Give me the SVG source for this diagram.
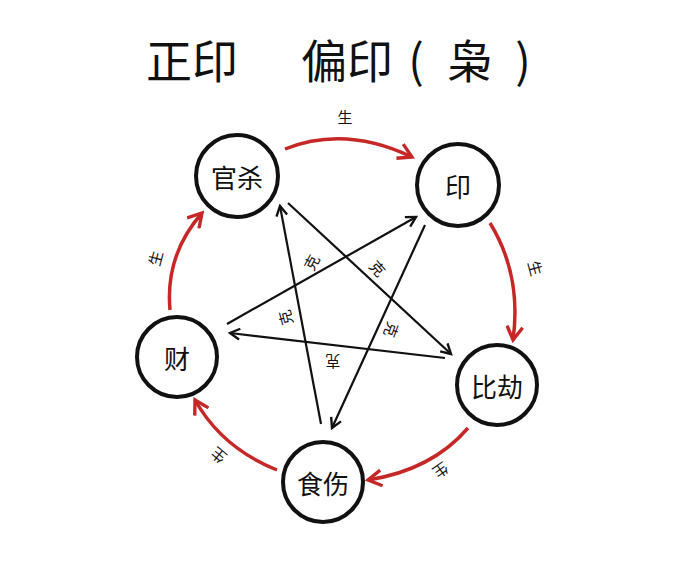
<svg xmlns="http://www.w3.org/2000/svg" width="675" height="564" viewBox="0 0 675 564">
<defs>
<marker id="ab" viewBox="0 0 12 12" refX="10" refY="6" markerWidth="13" markerHeight="13" markerUnits="userSpaceOnUse" orient="auto"><path d="M1,1 L10,6 L1,11" fill="none" stroke="#111" stroke-width="2.2"/></marker>
<marker id="ar" viewBox="0 0 16 16" refX="13" refY="8" markerWidth="18" markerHeight="18" markerUnits="userSpaceOnUse" orient="auto"><path d="M1,1 L13,8 L1,15" fill="none" stroke="#c62828" stroke-width="3"/></marker>
<style>
.n{fill:#fff;stroke:#111;stroke-width:4}
.t{font-family:"Noto Sans CJK SC",sans-serif;font-size:26px;fill:#111;text-anchor:middle;dominant-baseline:central}
.s{font-family:"Noto Sans CJK SC",sans-serif;font-size:15px;fill:#111;text-anchor:middle;dominant-baseline:central}
.h{font-family:"Noto Sans CJK SC",sans-serif;font-size:46px;fill:#111;text-anchor:middle;dominant-baseline:central}
.r{fill:none;stroke:#c62828;stroke-width:3.5;marker-end:url(#ar)}
.b{fill:none;stroke:#111;stroke-width:2.2;marker-end:url(#ab)}
</style>
</defs>
<rect width="675" height="564" fill="#fff"/>
<g id="title">
<text class="h" x="192" y="58">正印</text>
<text class="h" x="347" y="58">偏印</text>
<text class="h" x="416" y="58">(</text>
<text class="h" x="470" y="58">枭</text>
<text class="h" x="523" y="58">)</text>
</g>
<g id="connectors">
<path class="r" d="M285,149 Q345,125 412,157"/>
<path class="r" d="M490,223 Q522,275 513,340"/>
<path class="r" d="M468,428 Q432,470 368,480"/>
<path class="r" d="M277,470 Q222,448 195,400"/>
<path class="r" d="M170,310 Q165,255 202,213"/>
<line class="b" x1="288" y1="203" x2="451" y2="354"/>
<line class="b" x1="425" y1="225" x2="332" y2="428"/>
<line class="b" x1="445" y1="358" x2="230" y2="333"/>
<line class="b" x1="227" y1="324" x2="416" y2="217"/>
<line class="b" x1="321" y1="424" x2="280" y2="206"/>
<text class="s" x="345" y="116">生</text>
<text class="s" transform="translate(536,268) rotate(75)">生</text>
<text class="s" transform="translate(441,471) rotate(145)">生</text>
<text class="s" transform="translate(218,456) rotate(-140)">生</text>
<text class="s" transform="translate(155,258) rotate(-75)">生</text>
<text class="s" transform="translate(311,262) rotate(-62)">克</text>
<text class="s" transform="translate(378,268) rotate(48)">克</text>
<text class="s" transform="translate(285,318) rotate(-105)">克</text>
<text class="s" transform="translate(392,330) rotate(110)">克</text>
<text class="s" transform="translate(333,362) rotate(180)">克</text>
</g>
<g id="guansha"><circle class="n" cx="237" cy="176" r="41"/><text class="t" x="237" y="176">官杀</text></g>
<g id="yin"><circle class="n" cx="458" cy="185" r="41"/><text class="t" x="458" y="185">印</text></g>
<g id="bijie"><circle class="n" cx="497" cy="385" r="40"/><text class="t" x="497" y="385">比劫</text></g>
<g id="shishang"><circle class="n" cx="323" cy="482" r="40"/><text class="t" x="323" y="482">食伤</text></g>
<g id="cai"><circle class="n" cx="177" cy="357" r="40"/><text class="t" x="177" y="357">财</text></g>
</svg>
